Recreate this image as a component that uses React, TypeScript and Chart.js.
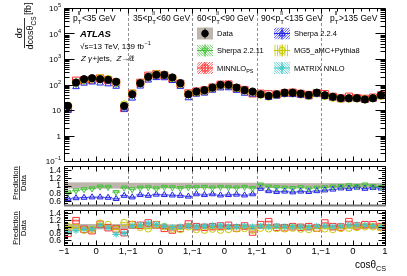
import React, { useEffect, useRef } from "react";
import { Chart, registerables } from "chart.js";

Chart.register(...registerables);

// ---------------- data ----------------
const PT_BIN_PREFIX = ["", "35<", "60<", "90<", ""];
const PT_BIN_SUFFIX = ["<35 GeV", "<60 GeV", "<90 GeV", "<135 GeV", ">135 GeV"];
const COS_BIN_CENTERS = [-0.875, -0.625, -0.375, -0.125, 0.125, 0.375, 0.625, 0.875];

const DATA_PT0 = [14.5, 120, 162, 177, 162, 153, 128, 14.5];
const DATA_PT1 = [41.5, 113, 200, 240, 240, 189, 113, 41.5];
const DATA_PT2 = [53, 60, 76, 97, 97, 76, 60, 53];
const DATA_PT3 = [41.5, 36, 41.5, 48, 48, 44, 39, 48];
const DATA_PT4 = [38, 33, 29, 29, 29, 26, 29, 38];
const DATA_REL_UNC = [0.08, 0.07, 0.07, 0.06, 0.06];

const SHERPA2211_RATIO = [
  0.82, 0.87, 0.9, 0.92, 0.97, 0.96, 0.83, 0.94,
  0.9, 0.94, 0.95, 0.92, 0.96, 0.95, 0.93, 0.95,
  0.95, 0.96, 0.94, 0.96, 0.95, 0.94, 0.96, 0.93,
  1.02, 0.97, 0.95, 0.94, 0.93, 0.95, 0.92, 0.94,
  0.95, 0.97, 0.98, 1.0, 0.98, 1.02, 0.98, 0.96,
];
const SHERPA224_RATIO = [
  0.66, 0.68, 0.69, 0.7, 0.7, 0.69, 0.66, 0.74,
  0.7, 0.76, 0.74, 0.77, 0.76, 0.75, 0.74, 0.72,
  0.78, 0.76, 0.78, 0.75, 0.76, 0.77, 0.75, 0.78,
  0.92, 0.86, 0.84, 0.85, 0.83, 0.85, 0.84, 0.86,
  0.88, 0.9, 0.93, 0.92, 0.95, 0.92, 0.94, 0.93,
];
const MINNLO_RATIO = [
  0.8, 1.18, 0.92, 0.88, 1.07, 0.97, 0.93, 0.82,
  1.06, 1.04, 1.11, 1.06, 0.95, 0.9, 0.95, 1.08,
  1.0, 0.98, 1.0, 1.02, 1.04, 0.96, 1.02, 0.84,
  1.06, 1.15, 0.98, 0.97, 1.0, 0.98, 1.0, 0.96,
  1.11, 1.0, 0.99, 1.15, 1.02, 1.06, 1.06, 1.0,
];
const MG5_RATIO = [
  1.0, 0.97, 0.9, 0.92, 1.1, 1.06, 0.92, 1.12,
  1.06, 0.98, 0.94, 1.06, 1.0, 0.93, 0.92, 1.0,
  0.92, 0.9, 0.93, 0.9, 0.92, 0.94, 0.95, 0.9,
  0.96, 0.94, 0.95, 0.94, 0.96, 0.93, 0.92, 0.95,
  0.94, 0.92, 0.95, 0.96, 0.98, 1.0, 1.0, 0.97,
];
const MATRIX_RATIO = [
  0.84, 0.88, 0.92, 0.93, 1.04, 0.97, 0.77, 0.8,
  1.03, 1.05, 1.1, 1.07, 1.02, 0.98, 1.0, 1.02,
  1.0, 1.02, 1.03, 1.03, 1.0, 1.0, 1.02, 1.0,
  1.02, 1.0, 1.02, 1.0, 1.0, 1.0, 0.98, 1.02,
  1.02, 1.0, 1.02, 1.05, 1.06, 1.05, 1.03, 1.0,
];

const X_TICK_LABELS = ["\u22121", "0", "1,\u22121", "0", "1,\u22121", "0", "1,\u22121", "0", "1,\u22121", "0", "1"];
const MAIN_Y_EXPONENTS = [-1, 0, 1, 2, 3, 4, 5];
const RATIO_TICK_VALUES = [0.6, 0.8, 1, 1.2, 1.4];
const RATIO_TICK_LABELS = ["0.6", "0.8", "1", "1.2", "1.4"];
const LEGEND_LABELS = ["Data", "Sherpa 2.2.11", "MINNLO", "Sherpa 2.2.4", "MG5_aMC+Pythia8", "MATRIX NNLO"];

// ---------------- derived ----------------
const N_COS = COS_BIN_CENTERS.length;
const DATA_VALUES = [DATA_PT0, DATA_PT1, DATA_PT2, DATA_PT3, DATA_PT4].flat();
const xOf = (i: number) => 2 * Math.floor(i / N_COS) + 1 + COS_BIN_CENTERS[i % N_COS];
const binOf = (i: number) => Math.floor(i / N_COS);

// ---------------- layout / style ----------------
const W = 407;
const H = 276;
const AREA_LEFT = 64;
const AREA_RIGHT = 385;
const MAIN_TOP = 8;
const MAIN_BOTTOM = 161;
const R1_TOP = 166;
const R1_BOTTOM = 205;
const R2_TOP = 210;
const R2_BOTTOM = 245;
const FONT = '"Liberation Sans", Arial, Helvetica, sans-serif';

const GREEN = "#46c23a";
const BLUE = "#2424e8";
const RED = "#ff3030";
const YELLOW = "#c8c800";
const CYAN = "#40c8c8";
const DATA_BAND = "#bdb5ab";

const SERIES: any = {
  sherpa2211: { ratio: SHERPA2211_RATIO, color: GREEN, band: "rgba(70,194,58,0.30)", style: "triangle", rot: 180, r: 3.4, unc: 0.03 },
  sherpa224: { ratio: SHERPA224_RATIO, color: BLUE, band: "rgba(36,36,232,0.25)", style: "triangle", rot: 0, r: 3.4, unc: 0.03 },
  minnlo: { ratio: MINNLO_RATIO, color: RED, band: "rgba(255,48,48,0.28)", style: "rect", rot: 0, r: 4.6, unc: 0.04 },
  mg5: { ratio: MG5_RATIO, color: YELLOW, band: "rgba(200,200,0,0.28)", style: "circle", rot: 0, r: 3.4, unc: 0.03 },
  matrix: { ratio: MATRIX_RATIO, color: CYAN, band: "rgba(64,200,200,0.3)", style: "star", rot: 0, r: 3.2, unc: 0.03 },
};

function font(ctx: any, size: number, style = "") {
  ctx.font = `${style} ${size}px ${FONT}`.trim();
}

function predDataset(key: string, inMain: boolean) {
  const s = SERIES[key];
  return {
    label: key,
    data: s.ratio.map((r: number, i: number) => ({ x: xOf(i), y: inMain ? DATA_VALUES[i] * r : r })),
    pointStyle: s.style,
    pointRotation: s.rot,
    pointRadius: inMain ? s.r + 0.4 : s.r,
    pointBorderColor: s.color,
    pointBackgroundColor: "rgba(0,0,0,0)",
    pointBorderWidth: 1,
  };
}

function drawDashed(chart: any) {
  const { ctx, chartArea: a } = chart;
  const xs = chart.scales.x;
  ctx.save();
  ctx.strokeStyle = "#8f8f8f";
  ctx.lineWidth = 1;
  ctx.setLineDash([3, 2]);
  ctx.beginPath();
  for (let b = 2; b < 10; b += 2) {
    const px = Math.round(xs.getPixelForValue(b)) + 0.5;
    ctx.moveTo(px, a.top);
    ctx.lineTo(px, a.bottom);
  }
  ctx.stroke();
  ctx.restore();
}

function drawFrame(chart: any, yMajors: number[], yMinors: number[], yMaj: number, yMin: number, xMaj: number, xMin: number, bottomColor = "#000") {
  const { ctx, chartArea: a } = chart;
  const xs = chart.scales.x;
  const ys = chart.scales.y;
  ctx.save();
  ctx.strokeStyle = "#000";
  ctx.lineWidth = 1;
  ctx.beginPath();
  const L = Math.round(a.left) + 0.5;
  const R = Math.round(a.right) + 0.5;
  const T = Math.round(a.top) + 0.5;
  const B = Math.round(a.bottom) + 0.5;
  const ytick = (v: number, len: number) => {
    const py = Math.round(ys.getPixelForValue(v)) + 0.5;
    if (py < T || py > B) return;
    ctx.moveTo(L, py);
    ctx.lineTo(L + len, py);
    ctx.moveTo(R, py);
    ctx.lineTo(R - len, py);
  };
  yMajors.forEach((v) => ytick(v, yMaj));
  yMinors.forEach((v) => ytick(v, yMin));
  for (let k = 1; k < 40; k++) {
    const v = k * 0.25;
    const px = Math.round(xs.getPixelForValue(v)) + 0.5;
    const len = k % 4 === 0 ? xMaj : xMin;
    ctx.moveTo(px, B);
    ctx.lineTo(px, B - len);
    ctx.moveTo(px, T);
    ctx.lineTo(px, T + len);
  }
  ctx.stroke();
  ctx.beginPath();
  ctx.moveTo(L, B);
  ctx.lineTo(L, T);
  ctx.lineTo(R, T);
  ctx.lineTo(R, B);
  ctx.stroke();
  ctx.strokeStyle = bottomColor;
  ctx.lineWidth = bottomColor === "#000" ? 1 : 2;
  ctx.beginPath();
  ctx.moveTo(L - 0.5, B);
  ctx.lineTo(R + 0.5, B);
  ctx.stroke();
  ctx.restore();
}

function drawRatioBands(chart: any, keys: string[]) {
  const { ctx, chartArea: a } = chart;
  const xs = chart.scales.x;
  const ys = chart.scales.y;
  ctx.save();
  ctx.beginPath();
  ctx.rect(a.left, a.top, a.right - a.left, a.bottom - a.top);
  ctx.clip();
  ctx.fillStyle = DATA_BAND;
  DATA_VALUES.forEach((_, i) => {
    const u = DATA_REL_UNC[binOf(i)];
    const x0 = xs.getPixelForValue(xOf(i) - 0.125);
    const x1 = xs.getPixelForValue(xOf(i) + 0.125);
    const y0 = ys.getPixelForValue(1 + u);
    const y1 = ys.getPixelForValue(1 - u);
    ctx.fillRect(x0, y0, x1 - x0 + 0.3, y1 - y0);
  });
  drawDashed(chart);
  keys.forEach((k) => {
    const s = SERIES[k];
    s.ratio.forEach((r: number, i: number) => {
      const x0 = xs.getPixelForValue(xOf(i) - 0.11);
      const x1 = xs.getPixelForValue(xOf(i) + 0.11);
      const y0 = ys.getPixelForValue(r + s.unc);
      const y1 = ys.getPixelForValue(r - s.unc);
      ctx.fillStyle = s.band;
      ctx.fillRect(x0, y0, x1 - x0, y1 - y0);
      ctx.strokeStyle = s.color;
      ctx.lineWidth = 0.8;
      ctx.beginPath();
      const py = ys.getPixelForValue(r);
      ctx.moveTo(xs.getPixelForValue(xOf(i) - 0.125), py);
      ctx.lineTo(xs.getPixelForValue(xOf(i) + 0.125), py);
      ctx.stroke();
    });
  });
  ctx.restore();
}

function drawRatioLabels(chart: any) {
  const { ctx, chartArea: a } = chart;
  const ys = chart.scales.y;
  ctx.save();
  ctx.fillStyle = "#000";
  font(ctx, 8.5);
  ctx.textAlign = "right";
  ctx.textBaseline = "middle";
  RATIO_TICK_VALUES.forEach((v, i) => {
    ctx.fillText(RATIO_TICK_LABELS[i], a.left - 3, ys.getPixelForValue(v) + 0.5);
  });
  ctx.restore();
}

function ratioMinors(lo: number, hi: number) {
  const out: number[] = [];
  for (let v = lo; v <= hi + 1e-9; v += 0.05) {
    const r = Math.round(v * 100) / 100;
    if (!RATIO_TICK_VALUES.some((m) => Math.abs(m - r) < 1e-6)) out.push(r);
  }
  return out;
}

// ---------- marker helper for legend ----------
function marker(ctx: any, style: string, x: number, y: number, r: number, color: string, fill = false) {
  ctx.beginPath();
  if (style === "circle") ctx.arc(x, y, r, 0, Math.PI * 2);
  else if (style === "rect") ctx.rect(x - r, y - r, 2 * r, 2 * r);
  else if (style === "triUp") {
    ctx.moveTo(x, y - r);
    ctx.lineTo(x + r * 0.95, y + r * 0.7);
    ctx.lineTo(x - r * 0.95, y + r * 0.7);
    ctx.closePath();
  } else if (style === "triDown") {
    ctx.moveTo(x, y + r);
    ctx.lineTo(x + r * 0.95, y - r * 0.7);
    ctx.lineTo(x - r * 0.95, y - r * 0.7);
    ctx.closePath();
  } else if (style === "star") {
    for (let k = 0; k < 4; k++) {
      const ang = (k * Math.PI) / 4;
      ctx.moveTo(x + Math.cos(ang) * r, y + Math.sin(ang) * r);
      ctx.lineTo(x - Math.cos(ang) * r, y - Math.sin(ang) * r);
    }
  }
  if (fill) {
    ctx.fillStyle = color;
    ctx.fill();
  }
  ctx.strokeStyle = color;
  ctx.lineWidth = 1;
  ctx.stroke();
}

function hatch(ctx: any, x: number, y: number, w: number, h: number, color: string, dir: number) {
  ctx.save();
  ctx.beginPath();
  ctx.rect(x, y, w, h);
  ctx.clip();
  ctx.strokeStyle = color;
  ctx.lineWidth = 0.8;
  ctx.beginPath();
  if (dir === 0) {
    for (let i = 1; i < w; i += 2.5) {
      ctx.moveTo(x + i, y);
      ctx.lineTo(x + i, y + h);
    }
  } else {
    for (let i = -h; i < w + h; i += 2.6) {
      ctx.moveTo(x + i, y + h);
      ctx.lineTo(x + i + h * dir, y);
    }
  }
  ctx.stroke();
  ctx.restore();
}

function drawSubText(ctx: any, x: number, y: number, main: string, sub: string, size: number, style = "", align = "left") {
  font(ctx, size, style);
  const w1 = ctx.measureText(main).width;
  font(ctx, size * 0.72, style);
  const w2 = ctx.measureText(sub).width;
  let sx = x;
  if (align === "right") sx = x - w1 - w2;
  if (align === "center") sx = x - (w1 + w2) / 2;
  ctx.textAlign = "left";
  font(ctx, size, style);
  ctx.fillText(main, sx, y);
  font(ctx, size * 0.72, style);
  ctx.fillText(sub, sx + w1, y + size * 0.3);
  return sx + w1 + w2;
}

function drawAnnotations(chart: any) {
  const { ctx, chartArea: a } = chart;
  const ys = chart.scales.y;
  ctx.save();
  ctx.fillStyle = "#000";
  ctx.textBaseline = "alphabetic";

  // main y tick labels
  MAIN_Y_EXPONENTS.forEach((e) => {
    const py = ys.getPixelForValue(Math.pow(10, e));
    const base = e === 0 ? "1" : "10";
    const sup = e === 0 || e === 1 ? "" : e < 0 ? "\u2212" + -e : String(e);
    font(ctx, 5.5);
    const ws = sup ? ctx.measureText(sup).width : 0;
    font(ctx, 8);
    const wb = ctx.measureText(base).width;
    const xr = a.left - 3;
    ctx.textAlign = "left";
    ctx.fillText(base, xr - ws - wb, py + 3);
    if (sup) {
      font(ctx, 5.5);
      ctx.fillText(sup, xr - ws, py - 1);
    }
  });

  // y title  d sigma / d cos theta_CS [fb]
  ctx.save();
  ctx.translate(24.5, 33);
  ctx.rotate(-Math.PI / 2);
  font(ctx, 9);
  ctx.textAlign = "center";
  ctx.fillText("d\u03c3", 0, -2.5);
  ctx.lineWidth = 0.8;
  ctx.strokeStyle = "#000";
  ctx.beginPath();
  ctx.moveTo(-15, 0);
  ctx.lineTo(15, 0);
  ctx.stroke();
  drawSubText(ctx, 0, 8.5, "dcos\u03b8", "CS", 9, "", "center");
  font(ctx, 9);
  ctx.textAlign = "left";
  ctx.fillText("[fb]", 18, 6);
  ctx.restore();

  // ratio titles
  const ratioTitle = (cy: number) => {
    ctx.save();
    ctx.translate(19.5, cy);
    ctx.rotate(-Math.PI / 2);
    font(ctx, 7.5);
    ctx.textAlign = "center";
    ctx.fillText("Prediction", 0, -1.5);
    ctx.fillText("Data", 0, 6.5);
    ctx.lineWidth = 0.7;
    ctx.beginPath();
    ctx.moveTo(-17, 0);
    ctx.lineTo(17, 0);
    ctx.stroke();
    ctx.restore();
  };
  ratioTitle(183);
  ratioTitle(228);

  // pT bin labels
  const labelX = [73, 133, 197, 261, 330];
  PT_BIN_PREFIX.forEach((pre, i) => {
    let cx = labelX[i];
    const y = 20.5;
    font(ctx, 8.5);
    ctx.textAlign = "left";
    ctx.fillText(pre, cx, y);
    cx += ctx.measureText(pre).width;
    ctx.fillText("p", cx, y);
    cx += ctx.measureText("p").width;
    font(ctx, 6);
    ctx.fillText("ll", cx, y - 5.5);
    ctx.fillText("T", cx, y + 3);
    cx += Math.max(ctx.measureText("ll").width, ctx.measureText("T").width) + 0.5;
    font(ctx, 8.5);
    ctx.fillText(PT_BIN_SUFFIX[i], cx, y);
  });

  // ATLAS block
  ctx.textAlign = "left";
  font(ctx, 9.5, "italic bold");
  ctx.fillText("ATLAS", 80, 37);
  font(ctx, 8);
  const s1 = "\u221as=13 TeV, 139 fb";
  ctx.fillText(s1, 80, 48.5);
  const w1 = ctx.measureText(s1).width;
  font(ctx, 5.5);
  ctx.fillText("\u22121", 80 + w1 + 0.5, 45);
  let zx = 81;
  font(ctx, 8, "italic");
  ctx.fillText("Z", zx, 61);
  zx += ctx.measureText("Z ").width;
  ctx.fillText("\u03b3", zx, 61);
  zx += ctx.measureText("\u03b3").width + 0.5;
  font(ctx, 8);
  ctx.fillText("+jets,  ", zx, 61);
  zx += ctx.measureText("+jets,  ").width;
  font(ctx, 8, "italic");
  ctx.fillText("Z", zx, 61);
  zx += ctx.measureText("Z").width;
  font(ctx, 8);
  ctx.fillText("\u2192\u2113\u2113", zx, 61);

  // legend
  const colX = [197, 274];
  const rowY = [33.5, 50.5, 68];
  const bw = 16;
  const bh = 12;
  const entries = [
    { c: 0, r: 0, kind: "data" },
    { c: 0, r: 1, key: "sherpa2211", m: "triDown", dir: -1 },
    { c: 0, r: 2, key: "minnlo", m: "rect", dir: 1 },
    { c: 1, r: 0, key: "sherpa224", m: "triUp", dir: 1 },
    { c: 1, r: 1, key: "mg5", m: "circle", dir: 0 },
    { c: 1, r: 2, key: "matrix", m: "star", dir: -1 },
  ];
  entries.forEach((e: any, idx) => {
    const bx = colX[e.c];
    const cy = rowY[e.r];
    const by = cy - bh / 2;
    const mx = bx + bw / 2;
    if (e.kind === "data") {
      ctx.fillStyle = DATA_BAND;
      ctx.fillRect(bx, by, bw, bh);
      ctx.strokeStyle = "#000";
      ctx.lineWidth = 1;
      ctx.beginPath();
      ctx.moveTo(mx, by + 1);
      ctx.lineTo(mx, by + bh - 1);
      ctx.stroke();
      marker(ctx, "circle", mx, cy, 3.3, "#000", true);
    } else {
      const s = SERIES[e.key];
      hatch(ctx, bx, by, bw, bh, s.color, e.dir);
      ctx.strokeStyle = s.color;
      ctx.lineWidth = 1;
      ctx.beginPath();
      ctx.moveTo(bx, cy);
      ctx.lineTo(bx + bw, cy);
      ctx.moveTo(mx, by);
      ctx.lineTo(mx, by + bh);
      ctx.stroke();
      marker(ctx, e.m, mx, cy, e.m === "rect" ? 3 : 3.3, s.color, false);
    }
    ctx.fillStyle = "#000";
    ctx.textAlign = "left";
    if (idx === 2) {
      drawSubText(ctx, bx + 20, cy + 2.5, LEGEND_LABELS[idx], "PS", 7.5);
    } else {
      font(ctx, 7.5);
      ctx.fillText(LEGEND_LABELS[[0, 1, 2, 3, 4, 5][idx]], bx + 20, cy + 2.5);
    }
  });

  // x title
  ctx.fillStyle = "#000";
  drawSubText(ctx, AREA_RIGHT + 1, 268, "cos\u03b8", "CS", 10, "", "right");

  ctx.restore();
}

function mainMinors() {
  const out: number[] = [];
  for (let e = -1; e < 5; e++) for (let m = 2; m <= 9; m++) out.push(m * Math.pow(10, e));
  return out;
}

function baseOptions(top: number, bottom: number, yScale: any) {
  return {
    animation: false,
    responsive: false,
    events: [],
    layout: { padding: { left: AREA_LEFT, right: W - AREA_RIGHT, top, bottom: H - bottom } },
    plugins: { legend: { display: false }, tooltip: { enabled: false } },
    scales: {
      x: { type: "linear", min: 0, max: 10, display: false },
      y: { ...yScale, display: false },
    },
  };
}

export default function App() {
  const mainRef = useRef<HTMLCanvasElement>(null);
  const r1Ref = useRef<HTMLCanvasElement>(null);
  const r2Ref = useRef<HTMLCanvasElement>(null);

  useEffect(() => {
    document.body.style.margin = "0";

    const mainChart = new Chart(mainRef.current as any, {
      type: "scatter",
      data: {
        datasets: [
          {
            label: "Data",
            data: DATA_VALUES.map((v, i) => ({ x: xOf(i), y: v })),
            pointStyle: "circle",
            pointRadius: 3.6,
            pointBackgroundColor: "#000",
            pointBorderColor: "#000",
          },
          predDataset("sherpa224", true),
          predDataset("mg5", true),
          predDataset("matrix", true),
          predDataset("sherpa2211", true),
          predDataset("minnlo", true),
        ],
      },
      options: baseOptions(MAIN_TOP, MAIN_BOTTOM, { type: "logarithmic", min: 0.1, max: 1e5 }) as any,
      plugins: [
        {
          id: "mainDeco",
          beforeDatasetsDraw(chart: any) {
            drawDashed(chart);
          },
          afterDatasetsDraw(chart: any) {
            drawFrame(chart, MAIN_Y_EXPONENTS.map((e) => Math.pow(10, e)), mainMinors(), 10, 5, 5, 3);
          },
          afterDraw(chart: any) {
            drawAnnotations(chart);
          },
        },
      ],
    });

    const r1Chart = new Chart(r1Ref.current as any, {
      type: "scatter",
      data: { datasets: [predDataset("sherpa2211", false), predDataset("sherpa224", false)] },
      options: baseOptions(R1_TOP, R1_BOTTOM, { type: "linear", min: 0.5, max: 1.5 }) as any,
      plugins: [
        {
          id: "r1Deco",
          beforeDatasetsDraw(chart: any) {
            drawRatioBands(chart, ["sherpa2211", "sherpa224"]);
          },
          afterDatasetsDraw(chart: any) {
            drawFrame(chart, RATIO_TICK_VALUES, ratioMinors(0.5, 1.5), 7, 3.5, 5, 3, "#777");
            drawRatioLabels(chart);
          },
        },
      ],
    });

    const r2Chart = new Chart(r2Ref.current as any, {
      type: "scatter",
      data: { datasets: [predDataset("matrix", false), predDataset("mg5", false), predDataset("minnlo", false)] },
      options: baseOptions(R2_TOP, R2_BOTTOM, { type: "linear", min: 0.45, max: 1.5 }) as any,
      plugins: [
        {
          id: "r2Deco",
          beforeDatasetsDraw(chart: any) {
            drawRatioBands(chart, ["minnlo", "mg5", "matrix"]);
          },
          afterDatasetsDraw(chart: any) {
            drawFrame(chart, RATIO_TICK_VALUES, ratioMinors(0.5, 1.5), 7, 3.5, 5, 3);
            drawRatioLabels(chart);
            const { ctx, chartArea: a } = chart;
            const xs = chart.scales.x;
            ctx.save();
            ctx.fillStyle = "#000";
            font(ctx, 9.5);
            ctx.textAlign = "center";
            ctx.textBaseline = "top";
            X_TICK_LABELS.forEach((t, i) => {
              ctx.fillText(t, xs.getPixelForValue(i), a.bottom + 2);
            });
            ctx.restore();
          },
        },
      ],
    });

    return () => {
      mainChart.destroy();
      r1Chart.destroy();
      r2Chart.destroy();
    };
  }, []);

  const cs: any = { position: "absolute", left: 0, top: 0 };
  return (
    <div style={{ position: "relative", width: W, height: H, background: "#fff", overflow: "hidden" }}>
      <canvas ref={mainRef} width={W} height={H} style={cs} />
      <canvas ref={r1Ref} width={W} height={H} style={cs} />
      <canvas ref={r2Ref} width={W} height={H} style={cs} />
    </div>
  );
}
